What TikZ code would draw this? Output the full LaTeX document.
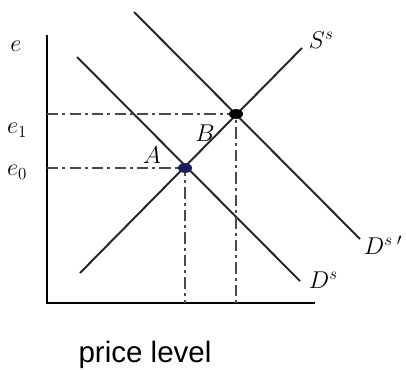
\documentclass[tikz,border=0pt]{standalone}
\usepackage{fontspec}
\setsansfont{Liberation Sans}
\usepackage{tikz}
\usetikzlibrary{shapes.geometric, positioning, calc}
\usepackage{xcolor}
\definecolor{darkgray}{RGB}{75,75,75}
\definecolor{dotblue}{RGB}{30,30,90}
\tikzset{
  axis/.style={line width=1.5pt, draw=black},
  curve/.style={line width=1.4pt, draw=black!85},
  guide/.style={line width=1.6pt, draw=darkgray, dash pattern=on 8pt off 3pt on 2pt off 3pt},
  eqdot/.style={ellipse, minimum width=10pt, minimum height=7pt, inner sep=0pt},
  lbl/.style={font=\fontsize{18}{18}\selectfont},
}

\begin{document}
\begin{tikzpicture}[x=0.025cm, y=-0.025cm]
  \useasboundingbox (0,0) rectangle (406,369);

  % ---- Axes ----
  \coordinate (orig) at (47,303);
  \coordinate (ytop) at (47,35);
  \coordinate (xend) at (315,303);
  \draw[axis] (ytop) -- (orig) -- (xend);

  % ---- Curves ----
  \coordinate (s0) at (80,273);   \coordinate (s1) at (302,48);
  \coordinate (d0) at (77,57);    \coordinate (d1) at (300,281);
  \coordinate (dd0) at (134,12);  \coordinate (dd1) at (360,239);
  \draw[curve] (s0) -- (s1);
  \draw[curve] (d0) -- (d1);
  \draw[curve] (dd0) -- (dd1);

  % ---- Equilibria ----
  \coordinate (ptA) at (185,168);
  \coordinate (ptB) at (236,114);
  \draw[guide] (orig |- ptA) -- (ptA) -- (ptA |- orig);
  \draw[guide] (orig |- ptB) -- (ptB) -- (ptB |- orig);
  \node[eqdot, fill=dotblue] (dotA) at (ptA) {};
  \node[eqdot, fill=black] (dotB) at (ptB) {};

  % ---- Labels ----
  \node[lbl] (le)  at (16,46)  {$e$};
  \node[lbl] (le1) at (17,130) {$e_1$};
  \node[lbl] (le0) at (17,172) {$e_0$};
  \node[lbl] (lA)  at (152,155) {$A$};
  \node[lbl] (lB)  at (205,133) {$B$};
  \node[lbl, anchor=west] (lS)  at (304,40)  {$S^{s}$};
  \node[lbl, anchor=west] (lDD) at (359,245) {$D^{s}\,{}'$};
  \node[lbl, anchor=west] (lD)  at (304,280) {$D^{s}$};
  \node[font=\sffamily\fontsize{21}{21}\selectfont] (lx) at (145,355) {price level};
\end{tikzpicture}
\end{document}
